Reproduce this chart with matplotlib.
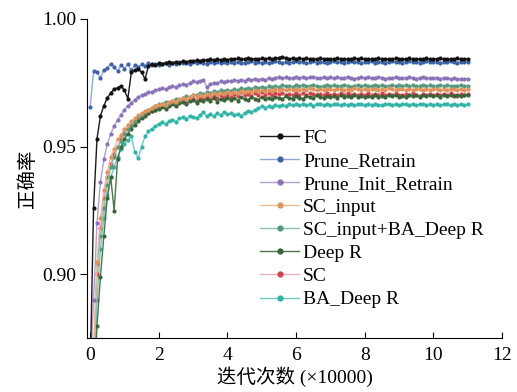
import numpy as np
import matplotlib
matplotlib.use('Agg')
import matplotlib.pyplot as plt

plt.rcParams['font.family'] = ['Liberation Serif', 'Noto Sans CJK SC']
plt.rcParams['axes.unicode_minus'] = False

# iterations (x10000), 0.0 .. 11.0
x = np.round(np.arange(0, 111) * 0.1, 1)

fc = [8600, 9260, 9530, 9620, 9660, 9690, 9710, 9725, 9730, 9738, 9720,
      9688, 9790, 9800, 9805, 9790, 9765, 9815, 9822, 9818, 9826,
      9824, 9828, 9830, 9827, 9832, 9829, 9834, 9831, 9836, 9833,
      9838, 9835, 9840, 9837, 9841, 9838, 9842, 9839, 9843, 9840,
      9844, 9841, 9845, 9842, 9843, 9846, 9842, 9844, 9841, 9845,
      9843, 9846, 9842, 9845, 9848, 9852, 9846, 9843, 9845, 9842,
      9846, 9843, 9845, 9841, 9844, 9842, 9845, 9843, 9841, 9844,
      9842, 9845, 9843, 9841, 9844, 9842, 9845, 9843, 9846, 9842,
      9844, 9841, 9843, 9845, 9842, 9844, 9841, 9843, 9845, 9842,
      9844, 9842, 9845, 9843, 9841, 9844, 9842, 9845, 9843, 9841,
      9843, 9845, 9842, 9844, 9841, 9843, 9845, 9842, 9844, 9843]

prune_retrain = [9655, 9795, 9790, 9768, 9800, 9808, 9825, 9812, 9795, 9820, 9805,
                 9822, 9800, 9818, 9810, 9822, 9815, 9826, 9818, 9824, 9820,
                 9822, 9826, 9820, 9828, 9825, 9830, 9826, 9829, 9824, 9830,
                 9827, 9831, 9828, 9825, 9830, 9827, 9832, 9828, 9830, 9826,
                 9831, 9828, 9832, 9829, 9826, 9830, 9833, 9829, 9831, 9828,
                 9832, 9829, 9831, 9834, 9830, 9828, 9832, 9829, 9831, 9833,
                 9830, 9832, 9828, 9831, 9833, 9829, 9832, 9830, 9828, 9831,
                 9833, 9830, 9832, 9829, 9831, 9834, 9830, 9832, 9829, 9831,
                 9830, 9833, 9829, 9831, 9832, 9828, 9831, 9833, 9830, 9832,
                 9829, 9831, 9833, 9830, 9832, 9829, 9831, 9834, 9830, 9832,
                 9831, 9829, 9832, 9830, 9833, 9831, 9829, 9832, 9830, 9831]

prune_init_retrain = [8600, 8900, 9200, 9360, 9450, 9510, 9550, 9580, 9605, 9625, 9645,
                      9660, 9672, 9684, 9695, 9700, 9706, 9712, 9715, 9720, 9724,
                      9728, 9724, 9732, 9736, 9733, 9740, 9745, 9742, 9750, 9755,
                      9752, 9758, 9762, 9732, 9745, 9750, 9748, 9755, 9752, 9758,
                      9755, 9760, 9757, 9762, 9758, 9763, 9760, 9765, 9761, 9766,
                      9762, 9768, 9765, 9770, 9772, 9768, 9771, 9767, 9770, 9773,
                      9769, 9772, 9768, 9771, 9774, 9770, 9767, 9771, 9769, 9772,
                      9768, 9771, 9767, 9770, 9773, 9769, 9766, 9770, 9772, 9768,
                      9771, 9767, 9770, 9773, 9769, 9766, 9770, 9768, 9771, 9767,
                      9770, 9768, 9772, 9769, 9766, 9770, 9773, 9769, 9767, 9770,
                      9768, 9766, 9769, 9767, 9765, 9768, 9766, 9764, 9765, 9764]

sc_input = [8000, 8700, 9050, 9220, 9330, 9400, 9460, 9490, 9530, 9545, 9570,
            9585, 9600, 9610, 9622, 9630, 9640, 9645, 9652, 9658, 9662,
            9668, 9663, 9675, 9680, 9676, 9685, 9690, 9686, 9695, 9700,
            9696, 9703, 9699, 9706, 9702, 9708, 9704, 9710, 9707, 9712,
            9709, 9714, 9710, 9716, 9712, 9718, 9714, 9720, 9716, 9721,
            9717, 9722, 9719, 9724, 9720, 9726, 9722, 9725, 9721, 9727,
            9723, 9726, 9722, 9728, 9724, 9721, 9726, 9723, 9727, 9724,
            9722, 9727, 9724, 9721, 9726, 9723, 9728, 9724, 9721, 9725,
            9723, 9727, 9724, 9722, 9726, 9723, 9728, 9725, 9722, 9726,
            9724, 9721, 9726, 9723, 9727, 9724, 9722, 9726, 9723, 9725,
            9727, 9723, 9725, 9722, 9726, 9724, 9721, 9725, 9723, 9726]

sc_input_ba = [7900, 8600, 9040, 9150, 9260, 9350, 9420, 9460, 9500, 9520, 9550,
               9570, 9585, 9600, 9615, 9625, 9635, 9645, 9650, 9660, 9665,
               9668, 9675, 9672, 9680, 9685, 9682, 9690, 9698, 9694, 9703,
               9700, 9708, 9705, 9712, 9709, 9716, 9712, 9720, 9717, 9722,
               9719, 9725, 9722, 9728, 9724, 9730, 9727, 9733, 9729, 9734,
               9731, 9736, 9733, 9738, 9734, 9740, 9736, 9739, 9735, 9741,
               9737, 9740, 9736, 9739, 9742, 9738, 9735, 9739, 9741, 9737,
               9740, 9736, 9739, 9742, 9738, 9735, 9739, 9741, 9737, 9740,
               9736, 9739, 9742, 9738, 9740, 9736, 9739, 9741, 9737, 9740,
               9738, 9741, 9737, 9740, 9736, 9739, 9742, 9738, 9740, 9737,
               9739, 9741, 9737, 9740, 9738, 9736, 9739, 9741, 9738, 9739]

deep_r = [7800, 8500, 8800, 8990, 9150, 9300, 9380, 9250, 9450, 9500, 9530,
          9550, 9570, 9585, 9600, 9610, 9620, 9630, 9638, 9642, 9648,
          9655, 9648, 9660, 9666, 9658, 9670, 9674, 9665, 9678, 9682,
          9672, 9684, 9678, 9688, 9680, 9690, 9676, 9686, 9682, 9692,
          9684, 9690, 9680, 9693, 9686, 9682, 9694, 9688, 9684, 9695,
          9688, 9692, 9685, 9696, 9690, 9686, 9697, 9691, 9688, 9698,
          9692, 9688, 9699, 9694, 9690, 9700, 9695, 9691, 9698, 9694,
          9697, 9692, 9700, 9695, 9698, 9693, 9701, 9696, 9699, 9694,
          9698, 9695, 9701, 9696, 9699, 9694, 9702, 9697, 9700, 9695,
          9699, 9696, 9702, 9697, 9700, 9695, 9701, 9698, 9702, 9697,
          9700, 9696, 9702, 9698, 9701, 9697, 9703, 9699, 9701, 9700]

sc = [8000, 8680, 9000, 9180, 9300, 9380, 9430, 9470, 9500, 9530, 9555,
      9570, 9580, 9595, 9605, 9615, 9625, 9630, 9640, 9645, 9652,
      9658, 9650, 9665, 9670, 9662, 9676, 9680, 9672, 9684, 9688,
      9680, 9690, 9685, 9694, 9688, 9697, 9690, 9700, 9694, 9702,
      9696, 9704, 9698, 9712, 9700, 9706, 9699, 9708, 9701, 9714,
      9703, 9708, 9700, 9710, 9704, 9711, 9702, 9707, 9700, 9709,
      9703, 9710, 9701, 9708, 9704, 9700, 9707, 9702, 9709, 9703,
      9706, 9700, 9708, 9703, 9710, 9702, 9706, 9700, 9707, 9703,
      9709, 9701, 9706, 9703, 9708, 9700, 9705, 9702, 9708, 9703,
      9700, 9706, 9702, 9708, 9703, 9699, 9705, 9701, 9707, 9702,
      9705, 9700, 9706, 9702, 9708, 9703, 9699, 9704, 9701, 9705]

ba_deep_r = [7800, 8550, 8900, 9100, 9220, 9310, 9380, 9420, 9460, 9490, 9510,
             9525, 9540, 9480, 9455, 9500, 9540, 9560, 9570, 9580, 9590,
             9595, 9588, 9600, 9606, 9598, 9610, 9615, 9608, 9620, 9617,
             9612, 9625, 9634, 9620, 9628, 9618, 9630, 9622, 9635, 9626,
             9630, 9624, 9628, 9620, 9633, 9640, 9635, 9645, 9650, 9658,
             9652, 9660, 9656, 9662, 9658, 9664, 9660, 9666, 9662, 9665,
             9661, 9667, 9663, 9666, 9660, 9665, 9668, 9663, 9666, 9661,
             9665, 9668, 9662, 9666, 9663, 9667, 9661, 9665, 9668, 9663,
             9666, 9662, 9667, 9664, 9661, 9665, 9668, 9663, 9666, 9662,
             9665, 9668, 9663, 9666, 9661, 9665, 9667, 9662, 9666, 9663,
             9667, 9662, 9665, 9668, 9663, 9666, 9661, 9665, 9664, 9666]

labels = ['FC', 'Prune_Retrain', 'Prune_Init_Retrain', 'SC_input',
          'SC_input+BA_Deep R', 'Deep R', 'SC', 'BA_Deep R']
series = [fc, prune_retrain, prune_init_retrain, sc_input,
          sc_input_ba, deep_r, sc, ba_deep_r]
# (line colour, marker colour)
colors = [('#1a1a1a', '#111111'),
          ('#8fa8d4', '#3b62a6'),
          ('#b29fd6', '#8a72b8'),
          ('#efb98f', '#e0935c'),
          ('#8fc2ac', '#55997f'),
          ('#4a744a', '#3a633a'),
          ('#eab0b8', '#d2434b'),
          ('#6fcbc2', '#2fb4a7')]

fig = plt.figure(figsize=(5.17, 3.92), dpi=100)
ax = fig.add_axes([0.169, 0.137, 0.802, 0.815])

# draw the lower curves first so the top ones sit above
order = [7, 6, 5, 4, 3, 2, 1, 0]
handles = {}
for i in order:
    y = np.array(series[i]) / 10000
    lc, mc = colors[i]
    h, = ax.plot(x, y, '-', color=lc, lw=1.0, marker='o', ms=2.0,
                 mfc=mc, mec=mc, label=labels[i])
    handles[i] = h

ax.set_xlim(-0.08, 12)
ax.set_ylim(0.875, 1.0)
ax.set_xticks([0, 2, 4, 6, 8, 10, 12])
ax.set_yticks([0.90, 0.95, 1.00])
ax.set_yticklabels(['0.90', '0.95', '1.00'])
ax.spines['top'].set_visible(False)
ax.spines['right'].set_visible(False)
ax.tick_params(axis='x', direction='in', length=4, labelsize=14, pad=6)
ax.tick_params(axis='y', direction='out', length=5, labelsize=14, pad=3)

ax.set_xlabel('迭代次数 (×10000)', fontsize=14, labelpad=2)
ax.set_ylabel('正确率', fontsize=14, labelpad=4)

leg = ax.legend([handles[i] for i in range(8)], labels, loc='upper left',
                bbox_to_anchor=(0.417, 0.654), frameon=False, fontsize=14,
                labelspacing=0.28, handlelength=2.0, handletextpad=0.2,
                borderpad=0, borderaxespad=0)
for h in leg.legend_handles:
    h.set_markersize(3.5)

fig.savefig('out.png', dpi=100)
